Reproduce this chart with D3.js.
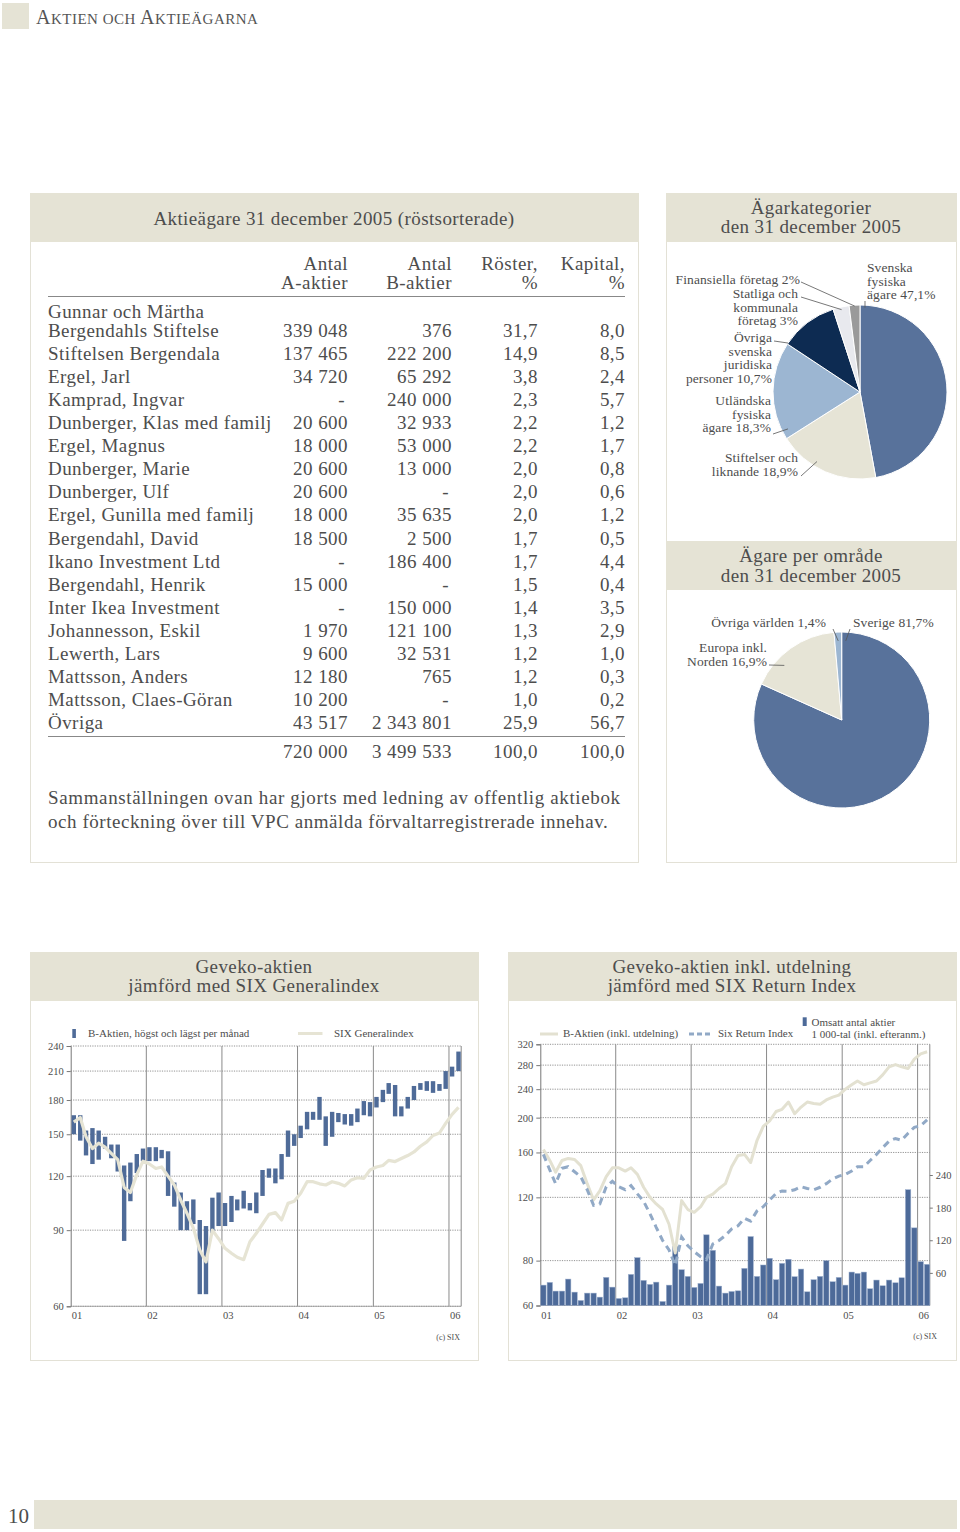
<!DOCTYPE html>
<html><head><meta charset="utf-8">
<script src="https://cdn.jsdelivr.net/npm/d3@7"></script>
<style>body{margin:0;background:#fff}svg{display:block}</style>
</head><body><script>
// ---------------- DATA ----------------
const tableHeaders = [["Antal","A-aktier"],["Antal","B-aktier"],["Röster,","%"],["Kapital,","%"]];
const holderNames = ["Gunnar och Märtha|Bergendahls Stiftelse","Stiftelsen Bergendala","Ergel, Jarl","Kamprad, Ingvar","Dunberger, Klas med familj","Ergel, Magnus","Dunberger, Marie","Dunberger, Ulf","Ergel, Gunilla med familj","Bergendahl, David","Ikano Investment Ltd","Bergendahl, Henrik","Inter Ikea Investment","Johannesson, Eskil","Lewerth, Lars","Mattsson, Anders","Mattsson, Claes-Göran","Övriga"];
const aShares = ["339 048","137 465","34 720","-","20 600","18 000","20 600","20 600","18 000","18 500","-","15 000","-","1 970","9 600","12 180","10 200","43 517"];
const bShares = ["376","222 200","65 292","240 000","32 933","53 000","13 000","-","35 635","2 500","186 400","-","150 000","121 100","32 531","765","-","2 343 801"];
const votesPct = ["31,7","14,9","3,8","2,3","2,2","2,2","2,0","2,0","2,0","1,7","1,7","1,5","1,4","1,3","1,2","1,2","1,0","25,9"];
const capitalPct = ["8,0","8,5","2,4","5,7","1,2","1,7","0,8","0,6","1,2","0,5","4,4","0,4","3,5","2,9","1,0","0,3","0,2","56,7"];
const totals = ["720 000","3 499 533","100,0","100,0"];

const ownerCategories = ["Svenska fysiska ägare","Stiftelser och liknande","Utländska fysiska ägare","Övriga svenska juridiska personer","Statliga och kommunala företag","Finansiella företag"];
const ownerShares = [47.1, 18.9, 18.3, 10.7, 3, 2];
const ownerLabels = [["Svenska","fysiska","ägare 47,1%"],["Stiftelser och","liknande 18,9%"],["Utländska","fysiska","ägare 18,3%"],["Övriga","svenska","juridiska","personer 10,7%"],["Statliga och","kommunala","företag 3%"],["Finansiella företag 2%"]];
const regionCategories = ["Sverige","Europa inkl. Norden","Övriga världen"];
const regionShares = [81.7, 16.9, 1.4];
const regionLabels = [["Sverige 81,7%"],["Europa inkl.","Norden 16,9%"],["Övriga världen 1,4%"]];

const months = ["2001-01","2001-02","2001-03","2001-04","2001-05","2001-06","2001-07","2001-08","2001-09","2001-10","2001-11","2001-12",
"2002-01","2002-02","2002-03","2002-04","2002-05","2002-06","2002-07","2002-08","2002-09","2002-10","2002-11","2002-12",
"2003-01","2003-02","2003-03","2003-04","2003-05","2003-06","2003-07","2003-08","2003-09","2003-10","2003-11","2003-12",
"2004-01","2004-02","2004-03","2004-04","2004-05","2004-06","2004-07","2004-08","2004-09","2004-10","2004-11","2004-12",
"2005-01","2005-02","2005-03","2005-04","2005-05","2005-06","2005-07","2005-08","2005-09","2005-10","2005-11","2005-12",
"2006-01","2006-02"];
const bHigh = [166,166,153,155,153,148,142,142,127,129,135,139, 140,140,138,137,116,110,105,106,95,92,107,110, 104,108,106,111,104,110,124,125,125,135,153,150, 157,169,169,183,165,169,168,167,167,172,179,178, 183,190,197,195,174,183,194,197,199,199,196,210, 215,233];
const bLow  = [150,145,134,128,131,139,132,123,85,105,122,130, 130,130,132,108,102,90,90,93,64,64,88.5,92, 92,94,100,101,100,98.5,108,119,115.5,118,133,141, 147,154,162,162,141,148,160,158,157,160,166,165, 173,178,186,165,165,172,180,190,189,187,189,191, 204,210];
const sixGeneral = [160,164,148,139,143,140,135.5,131,113,110,121,130, 128,125,126,120,114.5,105.7,98.5,91,81,76,90,86, 81.7,79.6,77.9,76.9,84.6,88.5,93,97.9,98.8,95,103.8,105, 109.5,116.5,116.5,115.2,114.5,116.5,115.5,113.9,117.6,119,118.6,124, 126,127,130.5,129.7,131.8,133.9,136.5,140.7,144,149,151,159, 166.8,173];
const bInclDividend = [163,152,141,152,154,153,147,131,118,125,137,145, 145,142,145,139,128,120,115,111,101,84,117.5,111, 109,113,120,122.5,127,131,146,157,158,150,173,189, 196,208,211,221,205,214,221,219,218,224,228,231, 240,247,253,247,250,253,263,277,281,277,274,291, 301,305];
const sixReturn = [158,143,131,144.6,146,141.4,137,126,114,115,128.4,133, 128.4,126,129.4,122.7,117,108,99,91,85.7,77.5,93,88, 84.7,82,80.5,89,91,94,98,100,105,103,110,113, 118,123,125,124.8,126,128.5,127,126,128,131,135,137.5, 139,142,146,146,152,158,165,172,175,173,181,188, 190,197];
const volume = [37.5,42.5,26.5,26.5,48.6,24.6,9.2,22.8,22.8,15.4,51.7,33.8, 12.9,14.2,57.2,88,46.2,38.8,43,7.4,37.5,109,65.8,53.5, 33.2,40.6,130,101.5,35.7,22.8,25.8,27,68.3,126.8,53.5,74.5, 86.8,47.4,77.5,85,53,67,25.2,47.4,53.5,82.5,43.7,51.7, 37.5,61.5,59,61.5,30.8,46.8,36.3,46.8,41.8,51,213,142.8, 80.6,75.7];

const yearTicks = ["2001","2002","2003","2004","2005","2006"];
const yTicksLeft = [60,90,120,150,180,210,240];
const yTicksRight = [60,80,120,160,200,240,280,320];
const volumeTicks = [60,120,180,240];

// ---------------- SETUP ----------------
const FONT = '"Liberation Serif","Times New Roman",serif';
const TXT = '#4d4d4d', BEIGE = '#e5e3d5', BORDER = '#e3e1d6';
const svg = d3.select("body").append("svg").attr("width",960).attr("height",1532)
  .style("font-family",FONT);

function txt(x,y,s,size,anchor,extra){
  const t = svg.append("text").attr("x",x).attr("y",y).attr("font-size",size)
    .attr("fill",TXT).attr("text-anchor",anchor||"start").text(s);
  if(extra) t.style("letter-spacing",extra);
  return t;
}
function rect(x,y,w,h,fill,stroke){
  return svg.append("rect").attr("x",x).attr("y",y).attr("width",w).attr("height",h)
    .attr("fill",fill||"none").attr("stroke",stroke||"none");
}

// page header
rect(2,3,27,26,BEIGE);
const hdr = svg.append("text").attr("x",36).attr("y",24).attr("fill","#555").style("letter-spacing","0.5px");
[["A",20],["KTIEN OCH ",15],["A",20],["KTIEÄGARNA",15]].forEach(([t,s])=>hdr.append("tspan").attr("font-size",s).text(t));

// panels
[[30,193,608,669],[666,193,290,669],[30,952,448,408],[508,952,448,408]].forEach(p=>rect(p[0]+0.5,p[1]+0.5,p[2],p[3],"#fff",BORDER));
[[30,193,608,49],[666,193,290,49],[666,541,290,49],[30,952,448,49],[508,952,448,49]].forEach(p=>rect(p[0],p[1],p[2]+1,p[3],BEIGE));

// panel titles
txt(334,225,"Aktieägare 31 december 2005 (röstsorterade)",19,"middle","0.4px");
txt(811,214,"Ägarkategorier",19,"middle","0.4px");
txt(811,233,"den 31 december 2005",19,"middle","0.4px");
txt(811,562,"Ägare per område",19,"middle","0.4px");
txt(811,582,"den 31 december 2005",19,"middle","0.4px");
txt(254,973,"Geveko-aktien",19,"middle","0.4px");
txt(254,992,"jämförd med SIX Generalindex",19,"middle","0.4px");
txt(732,973,"Geveko-aktien inkl. utdelning",19,"middle","0.4px");
txt(732,992,"jämförd med SIX Return Index",19,"middle","0.4px");

// ---------------- TABLE ----------------
const colX = [348,452,538,625];
const TS = 19, LS = "0.45px";
tableHeaders.forEach((h,i)=>{ txt(colX[i],270,h[0],TS,"end",LS); txt(colX[i],289,h[1],TS,"end",LS); });
svg.append("line").attr("x1",48).attr("x2",625).attr("y1",296.5).attr("y2",296.5).attr("stroke","#888").attr("stroke-width",1);
const rowY = d3.scaleLinear().domain([0,17]).range([337,729]);
holderNames.forEach((n,i)=>{
  const y = rowY(i);
  const parts = n.split("|");
  if(parts.length>1){ txt(48,y-19,parts[0],TS,"start",LS); }
  txt(48,y,parts[parts.length-1],TS,"start",LS);
  [aShares[i],bShares[i],votesPct[i],capitalPct[i]].forEach((v,c)=>{
    txt(colX[c]-(v==="-"?3:0),y,v,TS,"end",LS);
  });
});
svg.append("line").attr("x1",48).attr("x2",625).attr("y1",736.5).attr("y2",736.5).attr("stroke","#888").attr("stroke-width",1);
totals.forEach((v,c)=>txt(colX[c],758,v,TS,"end",LS));
txt(48,804,"Sammanställningen ovan har gjorts med ledning av offentlig aktiebok",TS,"start","0.63px");
txt(48,828,"och förteckning över till VPC anmälda förvaltarregistrerade innehav.",TS,"start","0.55px");

// ---------------- PIES ----------------
function drawPie(cx,cy,r,values,colors,labels,labelPos,leaders){
  const arcs = d3.pie().sort(null).value(d=>d)(values);
  const g = svg.append("g").attr("transform",`translate(${cx},${cy})`);
  g.selectAll("path").data(arcs).join("path")
    .attr("d",d3.arc().innerRadius(0).outerRadius(r))
    .attr("fill",(d,i)=>colors[i]).attr("stroke","#fff").attr("stroke-width",1);
  labels.forEach((lines,i)=>{
    const p = labelPos[i];
    lines.forEach((l,k)=>txt(p[0],p[1]+k*13.6,l,13.5,p[2],"0.1px"));
    const L = leaders[i];
    const a = arcs[i].startAngle + L[2]*(arcs[i].endAngle-arcs[i].startAngle);
    const rr = r*L[3];
    svg.append("line").attr("x1",L[0]).attr("y1",L[1])
      .attr("x2",cx+rr*Math.sin(a)).attr("y2",cy-rr*Math.cos(a))
      .attr("stroke","#555").attr("stroke-width",0.8);
  });
}
drawPie(860,392,87,ownerShares,
  ["#58729b","#e6e4d6","#9cb6d2","#0d2b52","#e8e9ee","#9a9a9a"],
  ownerLabels,
  [[867,272,"start"],[798,462,"end"],[771,405,"end"],[772,342,"end"],[798,298,"end"],[800,284,"end"]],
  [[865,301,0.02,0.97],[801,476,0.62,0.94],[773,434,0.08,0.93],[774,341,0.02,1.0],[801,297,0.5,0.97],[801,282,0.5,0.99]]
);
drawPie(841.7,720,88,regionShares,
  ["#58729b","#e6e4d6","#9cb6d2"],
  regionLabels,
  [[853,627,"start"],[767,652,"end"],[826,627,"end"]],
  [[850,629,0.01,0.9],[769,665,0.32,0.9],[833,629,0.5,0.9]]
);

// ---------------- CHART helpers ----------------
const parseM = d3.timeParse("%Y-%m");
const monthDates = months.map(parseM);
const midMonth = d=>d3.timeDay.offset(d,15);
const years = yearTicks.map(y=>d3.timeParse("%Y")(y));

function chartFrame(x,yScale,ticks,x0,x1,y0,y1){
  ticks.forEach(t=>{
    svg.append("line").attr("x1",x0).attr("x2",x1).attr("y1",yScale(t)).attr("y2",yScale(t))
      .attr("stroke","#777").attr("stroke-width",0.8).attr("stroke-dasharray","1.2,1.2");
  });
  years.forEach((d,i)=>{
    if(i>0) svg.append("line").attr("x1",x(d)).attr("x2",x(d)).attr("y1",y1).attr("y2",y0)
      .attr("stroke","#8a8a8a").attr("stroke-width",1);
    txt(x(d)+1,y0+13,d3.timeFormat("%y")(d),10.5,"start");
  });
  svg.append("line").attr("x1",x1).attr("x2",x1).attr("y1",y1).attr("y2",y0).attr("stroke","#8a8a8a").attr("stroke-width",1);
  const ax = svg.append("g").attr("transform",`translate(${x0},0)`)
    .call(d3.axisLeft(yScale).tickValues(ticks).tickFormat(d3.format("d")).tickSize(4).tickPadding(3));
  ax.select(".domain").attr("stroke","#777");
  ax.selectAll(".tick line").attr("stroke","#777");
  ax.selectAll("text").attr("font-family",FONT).attr("font-size",10.5).attr("fill",TXT);
  svg.append("line").attr("x1",x0).attr("x2",x1).attr("y1",y0).attr("y2",y0).attr("stroke","#999").attr("stroke-width",0.8);
}

// ---------------- LEFT CHART ----------------
const xL = d3.scaleTime().domain([parseM("2001-01"),parseM("2006-03")]).range([70.7,461.2]);
const yL = d3.scaleLog().domain([60,240]).range([1306.3,1046]);
chartFrame(xL,yL,yTicksLeft,70.7,461.2,1306.3,1046);
svg.append("g").selectAll("rect").data(monthDates).join("rect")
  .attr("x",(d)=>xL(midMonth(d))-2.2).attr("width",4.4)
  .attr("y",(d,i)=>yL(bHigh[i])).attr("height",(d,i)=>yL(bLow[i])-yL(bHigh[i]))
  .attr("fill","#4f6b98");
svg.append("path").datum(sixGeneral)
  .attr("d",d3.line().x((d,i)=>xL(midMonth(monthDates[i]))).y(d=>yL(d)))
  .attr("fill","none").attr("stroke","#e6e4d4").attr("stroke-width",3.2).attr("stroke-linejoin","round");
rect(72.3,1029,3.6,9,"#4f6b98");
txt(88,1037,"B-Aktien, högst och lägst per månad",11,"start");
svg.append("line").attr("x1",298).attr("x2",322.5).attr("y1",1033.5).attr("y2",1033.5).attr("stroke","#e6e4d4").attr("stroke-width",3);
txt(334,1037,"SIX Generalindex",11,"start");
txt(460,1340,"(c) SIX",8,"end");

// ---------------- RIGHT CHART ----------------
const xR = d3.scaleTime().domain([parseM("2001-01"),parseM("2006-03")]).range([540.3,929.8]);
const yR = d3.scaleLog().domain([60,320]).range([1305.5,1044.3]);
const yV = d3.scaleLinear().domain([0,240]).range([1305.5,1175]);
chartFrame(xR,yR,yTicksRight,540.3,929.8,1305.5,1044.3);
svg.append("g").selectAll("rect").data(monthDates).join("rect")
  .attr("x",d=>xR(midMonth(d))-2.7).attr("width",5.4)
  .attr("y",(d,i)=>yV(volume[i])).attr("height",(d,i)=>yV(0)-yV(volume[i]))
  .attr("fill","#4d6a99").attr("stroke","#9fb2cf").attr("stroke-width",0.5);
const lineR = d3.line().x((d,i)=>xR(midMonth(monthDates[i]))).y(d=>yR(d));
svg.append("path").datum(bInclDividend).attr("d",lineR)
  .attr("fill","none").attr("stroke","#e3e1d1").attr("stroke-width",3).attr("stroke-linejoin","round");
svg.append("path").datum(sixReturn).attr("d",lineR)
  .attr("fill","none").attr("stroke","#91a9c6").attr("stroke-width",3).attr("stroke-dasharray","7,5");
const vax = svg.append("g").attr("transform","translate(929.8,0)")
  .call(d3.axisRight(yV).tickValues(volumeTicks).tickSize(3).tickPadding(3));
vax.select(".domain").remove();
vax.selectAll(".tick line").attr("stroke","#777");
vax.selectAll("text").attr("font-family",FONT).attr("font-size",10.5).attr("fill",TXT);
svg.append("line").attr("x1",540).attr("x2",558).attr("y1",1034).attr("y2",1034).attr("stroke","#e3e1d1").attr("stroke-width",3);
txt(563,1037,"B-Aktien (inkl. utdelning)",11,"start");
svg.append("line").attr("x1",689).attr("x2",712).attr("y1",1034).attr("y2",1034).attr("stroke","#91a9c6").attr("stroke-width",3).attr("stroke-dasharray","5,3");
txt(718,1037,"Six Return Index",11,"start");
rect(802.7,1017.3,4,8.7,"#4d6a99");
txt(811.5,1025.5,"Omsatt antal aktier",11,"start");
txt(811.5,1038,"1 000-tal (inkl. efteranm.)",11,"start");
txt(937,1339,"(c) SIX",8,"end");

// ---------------- FOOTER ----------------
rect(34,1500,923,29,BEIGE);
txt(8,1523,"10",21,"start");
</script></body></html>
